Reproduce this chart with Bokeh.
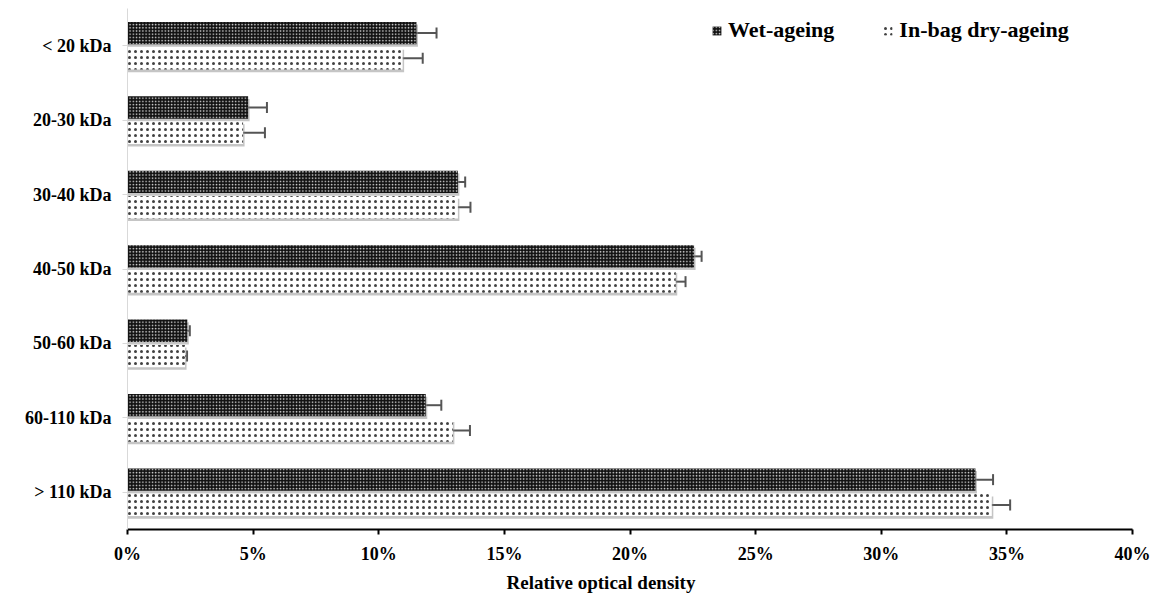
from bokeh.plotting import figure
from bokeh.models import (ColumnDataSource, FixedTicker, PrintfTickFormatter, Whisker,
                          TeeHead, Legend, LegendItem, Title, Range1d)
from bokeh.embed import file_html
from bokeh.resources import INLINE

# ---- data ----
categories = ["< 20 kDa", "20-30 kDa", "30-40 kDa", "40-50 kDa", "50-60 kDa", "60-110 kDa", "> 110 kDa"]
wet_values = [11.5, 4.8, 13.15, 22.55, 2.38, 11.87, 33.75]
wet_errors = [0.8, 0.75, 0.29, 0.3, 0.1, 0.62, 0.7]
dry_values = [10.95, 4.6, 13.15, 21.82, 2.29, 12.95, 34.4]
dry_errors = [0.8, 0.87, 0.5, 0.39, 0.08, 0.68, 0.73]
series_names = ["Wet-ageing", "In-bag dry-ageing"]
x_ticks = [0, 5, 10, 15, 20, 25, 30, 35, 40]
x_title = "Relative optical density"

FONT = "Liberation Serif"
n = len(categories)
pos = [n - 1 - i for i in range(n)]
OFF = 0.17
H = 0.3

wet_y = [p + OFF for p in pos]
dry_y = [p - OFF for p in pos]

wet_src = ColumnDataSource(dict(y=wet_y, v=wet_values,
                                lo=[v - e for v, e in zip(wet_values, wet_errors)],
                                hi=[v + e for v, e in zip(wet_values, wet_errors)],
                                sy=[y - 0.035 for y in wet_y],
                                sv=[v + 0.06 for v in wet_values]))
dry_src = ColumnDataSource(dict(y=dry_y, v=dry_values,
                                lo=[v - e for v, e in zip(dry_values, dry_errors)],
                                hi=[v + e for v, e in zip(dry_values, dry_errors)],
                                sy=[y - 0.035 for y in dry_y],
                                sv=[v + 0.06 for v in dry_values]))

p = figure(width=1150, height=595, output_backend="svg", toolbar_location=None,
           x_range=Range1d(0, 40), y_range=Range1d(-0.5, n - 0.5),
           min_border_left=127, min_border_right=18, min_border_top=8, min_border_bottom=61)
p.outline_line_color = None
p.xgrid.grid_line_color = None
p.ygrid.grid_line_color = None
p.background_fill_color = "white"

# shadows
for src in (wet_src, dry_src):
    p.hbar(y="sy", left=0, right="sv", height=H, source=src,
           fill_color="#8c8c8c", fill_alpha=0.5, line_color=None)

wet_r = p.hbar(y="y", left=0, right="v", height=H, source=wet_src,
               fill_color="#111111", line_color=None,
               hatch_pattern=".", hatch_color="white", hatch_scale=3.2, hatch_weight=1.0, hatch_alpha=0.85)
dry_r = p.hbar(y="y", left=0, right="v", height=H, source=dry_src,
               fill_color="white", line_color=None,
               hatch_pattern=".", hatch_color="#111111", hatch_scale=6.0, hatch_weight=0.9,
               hatch_alpha=0.8)

for src in (wet_src, dry_src):
    w = Whisker(source=src, base="y", lower="lo", upper="hi", dimension="width",
                line_color="#555555", line_width=2,
                lower_head=TeeHead(size=11, line_color="#555555", line_width=2),
                upper_head=TeeHead(size=11, line_color="#555555", line_width=2))
    p.add_layout(w)

# axes
p.xaxis.ticker = FixedTicker(ticks=x_ticks)
p.xaxis.formatter = PrintfTickFormatter(format="%d%%")
p.xaxis.axis_line_color = "black"
p.xaxis.axis_line_width = 2
p.xaxis.major_tick_line_color = "black"
p.xaxis.major_tick_line_width = 2
p.xaxis.major_tick_in = 0
p.xaxis.major_tick_out = 5
p.xaxis.minor_tick_line_color = None
p.xaxis.major_label_standoff = 9
p.xaxis.major_label_text_font = FONT
p.xaxis.major_label_text_font_style = "bold"
p.xaxis.major_label_text_font_size = "18px"
p.xaxis.major_label_text_color = "black"

p.yaxis.ticker = FixedTicker(ticks=pos)
p.yaxis.major_label_overrides = {pp: c for pp, c in zip(pos, categories)}
p.yaxis.axis_line_color = "#d9d9d9"
p.yaxis.major_tick_line_color = "#d9d9d9"
p.yaxis.major_tick_in = 0
p.yaxis.major_tick_out = 5
p.yaxis.minor_tick_line_color = None
p.yaxis.major_label_standoff = 11
p.yaxis.major_label_text_font = FONT
p.yaxis.major_label_text_font_style = "bold"
p.yaxis.major_label_text_font_size = "18px"
p.yaxis.major_label_text_color = "black"

# x-axis title (slightly left of centre, as in the reference)
p.add_layout(Title(text=x_title, align="left", offset=379, standoff=6,
                   text_font=FONT, text_font_style="bold", text_font_size="19px",
                   text_color="black"), "below")

legend = Legend(items=[LegendItem(label=series_names[0], renderers=[wet_r]),
                       LegendItem(label=series_names[1], renderers=[dry_r])],
                orientation="horizontal", location=(584, 486),
                glyph_width=11, glyph_height=11, label_standoff=6, spacing=48,
                padding=0, margin=0, border_line_color=None, background_fill_alpha=0,
                label_text_font=FONT, label_text_font_style="bold", label_text_font_size="22px",
                label_text_color="black")
p.add_layout(legend)

open("out.html", "w").write(file_html(p, INLINE))
